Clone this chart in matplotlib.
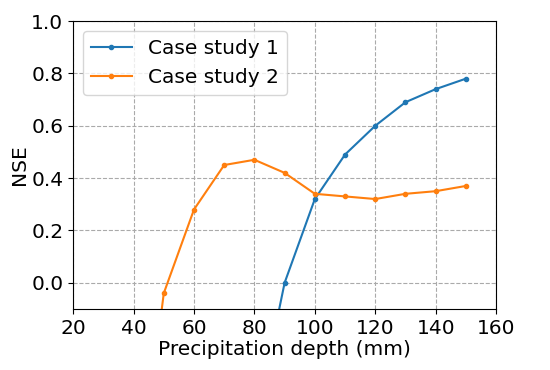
import matplotlib
matplotlib.use("Agg")
import matplotlib.pyplot as plt

x1 = [80, 90, 100, 110, 120, 130, 140, 150]
y1 = [-0.56, 0.0, 0.32, 0.49, 0.60, 0.69, 0.74, 0.78]
x2 = [40, 50, 60, 70, 80, 90, 100, 110, 120, 130, 140, 150]
y2 = [-0.95, -0.04, 0.28, 0.45, 0.47, 0.42, 0.34, 0.33, 0.32, 0.34, 0.35, 0.37]
labels = ["Case study 1", "Case study 2"]

plt.rcParams['font.size'] = 14.5
fig = plt.figure(figsize=(5.5, 3.7), dpi=100)
ax = fig.add_axes([0.133, 0.165, 0.769, 0.778])
ax.plot(x1, y1, marker='.', markersize=6, color='#1f77b4', lw=1.5, label=labels[0])
ax.plot(x2, y2, marker='.', markersize=6, color='#ff7f0e', lw=1.5, label=labels[1])
ax.set_xlim(20, 160)
ax.set_ylim(-0.1, 1.0)
ax.set_xticks(range(20, 161, 20))
ax.set_yticks([0.0, 0.2, 0.4, 0.6, 0.8, 1.0])
ax.grid(True, linestyle='--', color='#aaaaaa', lw=0.8)
ax.set_xlabel("Precipitation depth (mm)", labelpad=2)
ax.set_ylabel("NSE", labelpad=2)
ax.legend(loc='upper left', fontsize=14.5)
fig.savefig("out.png", dpi=100)
